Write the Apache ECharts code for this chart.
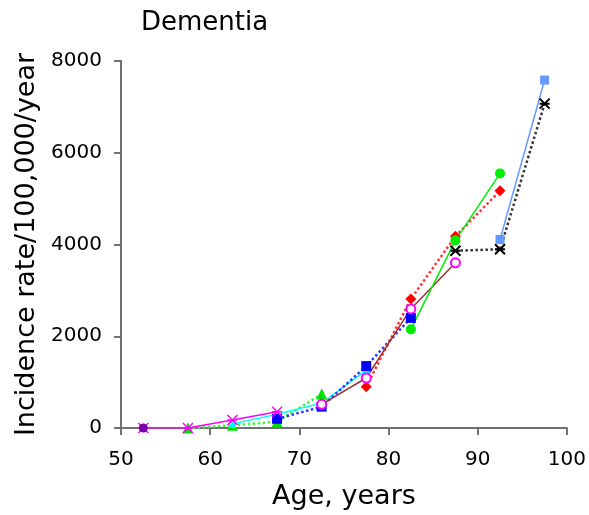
<!DOCTYPE html>
<html>
<head>
<meta charset="utf-8">
<script src="https://cdn.jsdelivr.net/npm/echarts@6/dist/echarts.min.js"></script>
<style>
  html, body { margin: 0; padding: 0; background: #fff; }
  #chart { width: 589px; height: 515px; }
</style>
</head>
<body>
<div id="chart"></div>
<script>
// age group midpoints
const ages = [52.5, 57.5, 62.5, 67.5, 72.5, 77.5, 82.5, 87.5, 92.5, 97.5];

// incidence per study (null = not reported)
const magentaStars = [0, 0, 175, 355, null, null, null, null, null, null];
const purpleCircle = [0, null, null, null, null, null, null, null, null, null];
const greenTriangles = [null, 0, 60, 135, 740, null, null, null, null, null];
const cyanLine = [null, null, 90, 300, 545, 1260, null, null, null, null];
const blueSquares = [null, null, null, 200, 465, 1350, 2400, null, null, null];
const redDiamonds = [null, null, null, null, null, 900, 2810, 4180, 5170, null];
const brownCircles = [null, null, null, null, 515, 1090, 2595, 3600, null, null];
const greenCircles = [null, null, null, null, null, null, 2150, 4090, 5550, null];
const blackStars = [null, null, null, null, null, null, null, 3865, 3895, 7070];
const lightBlueSquares = [null, null, null, null, null, null, null, null, 4110, 7585];

const yTicks = [0, 2000, 4000, 6000, 8000];
const xTicks = [50, 60, 70, 80, 90, 100];

const FONT = 'DejaVu Sans, sans-serif';
const STAR = 'path://M0,0L10,10M10,0L0,10M0,5L10,5M5,0L5,0';

function pairs(vals) {
  return ages.map((a, i) => [a, vals[i]]).filter(p => p[1] !== null);
}

function line(vals, lineColor, markColor, type, symbol, size, extra) {
  return Object.assign({
    type: 'line',
    data: pairs(vals),
    symbol: symbol,
    symbolSize: size,
    lineStyle: { color: lineColor, width: type === 'solid' ? 1.5 : 2.5, type: type },
    itemStyle: { color: markColor },
    animation: false
  }, extra || {});
}

const chart = echarts.init(document.getElementById('chart'));

chart.setOption({
  backgroundColor: '#fff',
  title: {
    text: 'Dementia',
    left: 136,
    top: 5,
    textStyle: { fontFamily: FONT, fontSize: 26, fontWeight: 'normal', color: '#000' }
  },
  grid: { left: 121, right: 21, top: 61, bottom: 87 },
  xAxis: {
    type: 'value',
    min: xTicks[0],
    max: xTicks[xTicks.length - 1],
    interval: 10,
    name: 'Age, years',
    nameLocation: 'middle',
    nameGap: 55,
    nameTextStyle: { fontFamily: FONT, fontSize: 27, color: '#000' },
    axisLine: { lineStyle: { color: '#707070', width: 2 } },
    axisTick: { length: 7, lineStyle: { color: '#707070', width: 2 } },
    axisLabel: { fontFamily: FONT, fontSize: 20, color: '#000', margin: 22 },
    splitLine: { show: false }
  },
  yAxis: {
    type: 'value',
    min: yTicks[0],
    max: yTicks[yTicks.length - 1],
    interval: 2000,
    name: 'Incidence rate/100,000/year',
    nameLocation: 'middle',
    nameGap: 80,
    nameTextStyle: { fontFamily: FONT, fontSize: 27, color: '#000' },
    axisLine: { show: true, lineStyle: { color: '#707070', width: 2 } },
    axisTick: { show: true, length: 7, lineStyle: { color: '#707070', width: 2 } },
    axisLabel: { fontFamily: FONT, fontSize: 20, color: '#000', margin: 19, formatter: v => String(v) },
    splitLine: { show: false }
  },
  series: [
    line(greenTriangles, '#33ff33', '#00e000', 'dotted', 'triangle', 11),
    line(cyanLine, '#00ffff', '#00ffff', 'solid', 'triangle', 8),
    line(blueSquares, '#3333ff', '#0000ff', 'dotted', 'rect', 10),
    line(magentaStars, '#ff00ff', '#ff00ff', 'solid', STAR, 10,
      { itemStyle: { color: 'transparent', borderColor: '#ff00ff', borderWidth: 1.5 } }),
    line(purpleCircle, '#7700aa', '#7700aa', 'solid', 'circle', 9),
    line(redDiamonds, '#ff3333', '#ff0000', 'dotted', 'diamond', 11),
    line(brownCircles, '#993333', '#ff00ff', 'solid', 'emptyCircle', 9,
      { itemStyle: { color: '#ff00ff', borderWidth: 1.5 } }),
    line(greenCircles, '#00ee00', '#00ee00', 'solid', 'circle', 10),
    line(lightBlueSquares, '#6699ff', '#6699ff', 'solid', 'rect', 9),
    line(blackStars, '#333333', '#000000', 'dotted', STAR, 10,
      { itemStyle: { color: 'transparent', borderColor: '#000', borderWidth: 2 } })
  ]
});
</script>
</body>
</html>
